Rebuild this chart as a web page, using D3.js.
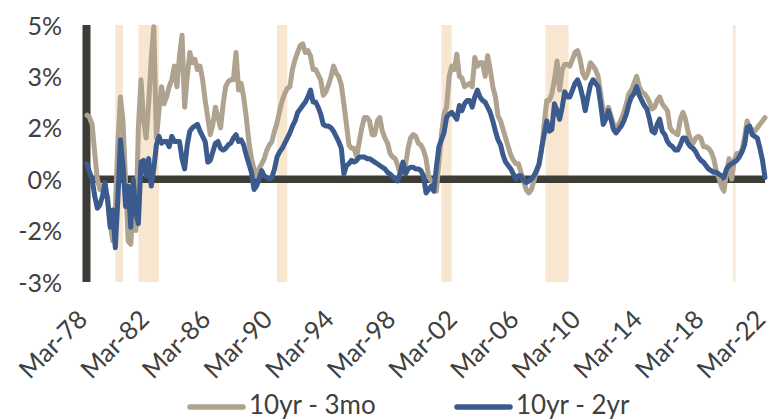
<!DOCTYPE html>
<html>
<head>
<meta charset="utf-8">
<script src="https://cdn.jsdelivr.net/npm/d3@7"></script>
<style>
  html, body { margin: 0; padding: 0; background: #ffffff; }
  svg { display: block; }
  text { font-family: Lato, "Noto Sans", sans-serif; fill: #404040; }
</style>
</head>
<body>
<svg id="chart" width="771" height="420"></svg>
<script>
// Treasury yield-curve spreads, one reading every two months from Mar 1978 to Mar 2022 (percent)
const seriesNames = ["10yr - 3mo", "10yr - 2yr"];
const seriesStart = new Date(1978, 2, 1);
const stepMonths = 2;

const spread10y3m = [
  1.87, 1.8, 1.6, 0.75, 0.0, -0.3, -0.2, -0.5, -0.5, -1.3, -1.8, -0.9, 1.0, 2.4, 1.7, -0.1, -1.8, -1.9, -0.7, -1.5,
  1.5, 2.9, 1.7, 1.2, 2.2, 3.5, 4.45, 1.2, 2.0, 2.7, 2.2, 2.4, 2.7, 2.9, 3.3, 2.7, 3.6, 4.2, 2.1, 3.0, 3.7, 3.4, 3.5, 3.2,
  3.3, 2.9, 2.3, 1.8, 1.3, 1.6, 2.1, 1.8, 1.5, 2.2, 2.7, 2.85, 2.9, 2.9, 3.7, 2.6, 2.8, 2.4, 1.8, 1.1, 0.6, 0.3, 0.07,
  0.3, 0.45, 0.6, 0.85, 1.0, 1.1, 1.4, 1.65, 2.0, 2.3, 2.5, 2.65, 2.7, 3.2, 3.5, 3.7, 3.9, 3.95, 3.7, 3.75, 3.6, 3.2,
  3.2, 3.05, 2.9, 2.45, 2.55, 2.75, 3.0, 3.3, 3.1, 3.0, 2.75, 2.2, 1.6, 1.0, 0.9, 0.9, 0.65, 1.1, 1.5, 1.8, 1.8, 1.7,
  1.3, 1.3, 1.7, 1.8, 1.4, 1.2, 1.05, 0.75, 0.65, 0.6, 0.4, 0.15, 0.25, 0.4, 0.9, 1.2, 1.3, 1.25, 1.05, 1.0, 0.85, 0.6, 0.07,
  -0.05, -0.1, -0.35, 0.5, 1.3, 1.9, 2.1, 3.0, 3.3, 3.2, 3.65, 3.0, 2.95, 2.7, 2.75, 2.8, 2.7, 3.55, 3.3, 3.4, 3.4, 3.0,
  3.6, 3.2, 2.7, 2.4, 1.85, 1.7, 1.45, 1.2, 0.95, 0.7, 0.55, 0.45, 0.45, 0.2, -0.05, -0.3, -0.4, -0.3, -0.05, 0.2, 0.4, 0.85, 1.6,
  2.3, 2.3, 2.5, 2.9, 3.45, 2.6, 3.2, 3.35, 3.35, 3.3, 3.5, 3.7, 3.75, 3.5, 3.1, 2.95, 3.1, 3.4, 3.3, 3.2, 3.0, 2.5,
  1.95, 1.95, 2.1, 1.85, 1.6, 1.5, 1.6, 1.75, 1.95, 2.2, 2.5, 2.6, 2.8, 3.0, 2.7, 2.55, 2.5, 2.4, 2.25, 2.05, 2.1, 2.3, 2.4,
  2.2, 2.1, 2.0, 1.5, 1.4, 1.35, 1.3, 1.75, 1.95, 1.75, 1.4, 1.15, 1.05, 1.2, 1.25, 1.2, 0.95, 0.95, 0.9, 0.8, 0.6,
  0.25, 0.05, -0.2, -0.35, 0.2, 0.6, 0.0, 0.55, 0.75, 0.75, 0.85, 1.2, 1.7, 1.5, 1.45, 1.4, 1.5, 1.6, 1.7, 1.8
];

const spread10y2y = [
  0.45, 0.2, 0.0, -0.5, -0.85, -0.75, -0.5, -0.1, -0.6, -1.4, -0.9, -2.0, -0.6, 1.15, 0.4, -0.8, -0.2, -1.4, 0.0, -1.0,
  -1.3, 0.5, 0.55, 0.1, 0.6, -0.2, 0.3, 1.0, 1.25, 1.05, 1.1, 1.1, 0.95, 1.25, 1.1, 1.1, 1.1, 0.6, 0.3, 1.0, 1.4, 1.5, 1.55, 1.6,
  1.4, 1.25, 1.1, 0.5, 0.55, 0.8, 1.05, 1.1, 0.9, 0.85, 0.9, 1.0, 1.05, 1.2, 1.3, 1.1, 1.15, 1.0, 0.7, 0.45, 0.2, -0.3, -0.2,
  0.0, 0.25, 0.1, 0.05, 0.0, 0.05, 0.3, 0.65, 0.8, 0.9, 1.05, 1.2, 1.35, 1.55, 1.7, 1.95, 2.05, 2.15, 2.25, 2.4, 2.6, 2.25,
  2.25, 2.1, 1.9, 1.6, 1.55, 1.55, 1.5, 1.4, 1.25, 1.1, 0.9, 0.15, 0.4, 0.45, 0.55, 0.5, 0.55, 0.65, 0.65, 0.65, 0.6, 0.6,
  0.55, 0.5, 0.45, 0.4, 0.35, 0.3, 0.2, 0.15, 0.07, 0.0, -0.05, 0.2, 0.5, 0.15, 0.3, 0.35, 0.35, 0.3, 0.3, 0.25, 0.1, -0.4, -0.3,
  -0.2, -0.35, 0.35, 0.95, 1.15, 1.35, 1.8, 1.9, 1.95, 1.85, 1.75, 2.15, 2.0, 2.2, 2.3, 2.3, 2.1, 2.4, 2.6, 2.4, 2.3, 2.25,
  2.1, 1.95, 1.7, 1.4, 1.15, 1.0, 0.7, 0.5, 0.4, 0.3, 0.15, 0.0, 0.1, 0.1, -0.03, -0.1, -0.05, 0.0, 0.1, 0.25, 0.45, 0.9, 1.3,
  1.7, 1.4, 1.45, 2.2, 2.0, 1.75, 2.1, 2.55, 2.4, 2.4, 2.6, 2.8, 2.9, 2.7, 2.4, 2.0, 2.4, 2.75, 2.9, 2.8, 2.7, 2.2,
  1.6, 1.75, 2.0, 1.75, 1.45, 1.35, 1.45, 1.55, 1.7, 1.9, 2.2, 2.4, 2.5, 2.7, 2.45, 2.3, 2.15, 2.05, 1.75, 1.4, 1.35, 1.6, 1.75,
  1.4, 1.3, 1.1, 1.0, 0.95, 0.85, 0.85, 1.0, 1.2, 1.2, 1.05, 0.95, 0.9, 0.8, 0.65, 0.55, 0.5, 0.4, 0.3, 0.25, 0.2,
  0.2, 0.15, 0.1, 0.05, 0.3, 0.4, 0.45, 0.5, 0.55, 0.65, 0.8, 1.0, 1.5, 1.55, 1.3, 1.25, 1.2, 0.9, 0.55, 0.05
];

// Recession periods (start month, end month)
const recessionStarts = ["1980-01", "1981-07", "1990-07", "2001-03", "2007-12", "2020-02"];
const recessionEnds   = ["1980-07", "1982-11", "1991-03", "2001-11", "2009-06", "2020-04"];

// Axis ticks
const yTickValues = [-3, -1.5, 0, 1.5, 3, 4.5];
const yTickLabels = ["-3%", "-2%", "0%", "2%", "3%", "5%"];
const xTickLabels = ["Mar-78", "Mar-82", "Mar-86", "Mar-90", "Mar-94", "Mar-98",
                     "Mar-02", "Mar-06", "Mar-10", "Mar-14", "Mar-18", "Mar-22"];

const colors = { tan: "#afa28e", blue: "#3b5a8e", axis: "#3e3c37", band: "#f8e7d0" };

const parseMonth = d3.timeParse("%Y-%m");
const parseTick = d3.timeParse("%b-%y");
const dates = spread10y3m.map((_, i) => d3.timeMonth.offset(seriesStart, i * stepMonths));

const svg = d3.select("#chart");
const plot = { left: 87, right: 765, top: 25, bottom: 282 };

const x = d3.scaleTime()
  .domain([parseTick("Mar-78"), parseTick("Mar-22")])
  .range([plot.left, plot.right]);
const y = d3.scaleLinear()
  .domain([-3, 4.5])
  .range([plot.bottom, plot.top]);

// recession bands
svg.append("g").selectAll("rect")
  .data(recessionStarts.map((s, i) => [parseMonth(s), parseMonth(recessionEnds[i])]))
  .join("rect")
  .attr("x", d => x(d[0]))
  .attr("width", d => x(d[1]) - x(d[0]))
  .attr("y", plot.top)
  .attr("height", plot.bottom - plot.top)
  .attr("fill", colors.band);

// y axis labels
const yAxis = svg.append("g")
  .attr("transform", `translate(${plot.left - 25},0)`)
  .call(d3.axisLeft(y).tickValues(yTickValues).tickSize(0).tickPadding(0)
    .tickFormat((d, i) => yTickLabels[i]));
yAxis.select(".domain").remove();
yAxis.selectAll("text")
  .attr("font-size", 25)
  .attr("dy", "0.36em")
  .style("font-family", "Lato, 'Noto Sans', sans-serif")
  .attr("fill", "#404040");

// x axis labels, rotated
const xAxis = svg.append("g")
  .attr("transform", `translate(0,${plot.bottom})`)
  .call(d3.axisBottom(x).tickValues(xTickLabels.map(parseTick)).tickSize(0)
    .tickFormat(d3.timeFormat("%b-%y")));
xAxis.select(".domain").remove();
xAxis.selectAll("text")
  .attr("font-size", 25.5)
  .attr("text-anchor", "end")
  .attr("dy", 0)
  .attr("y", 0)
  .attr("transform", "translate(1.5,39) rotate(-45)")
  .style("font-family", "Lato, 'Noto Sans', sans-serif")
  .attr("fill", "#404040");

// thick axis lines
svg.append("line")
  .attr("x1", plot.left - 0.5).attr("x2", plot.left - 0.5)
  .attr("y1", plot.top).attr("y2", plot.bottom)
  .attr("stroke", colors.axis).attr("stroke-width", 8);
svg.append("line")
  .attr("x1", plot.left - 4).attr("x2", plot.right)
  .attr("y1", y(0)).attr("y2", y(0))
  .attr("stroke", colors.axis).attr("stroke-width", 7.5);

// spread lines
const line = d3.line()
  .x((d, i) => x(dates[i]))
  .y(d => y(d));

svg.append("path")
  .datum(spread10y3m)
  .attr("d", line)
  .attr("fill", "none")
  .attr("stroke", colors.tan)
  .attr("stroke-width", 5)
  .attr("stroke-linejoin", "round")
  .attr("stroke-linecap", "round");

svg.append("path")
  .datum(spread10y2y)
  .attr("d", line)
  .attr("fill", "none")
  .attr("stroke", colors.blue)
  .attr("stroke-width", 5)
  .attr("stroke-linejoin", "round")
  .attr("stroke-linecap", "round");

// legend
const legendItems = [
  { name: seriesNames[0], color: colors.tan, x: 190 },
  { name: seriesNames[1], color: colors.blue, x: 457 }
];
const legend = svg.append("g").selectAll("g")
  .data(legendItems)
  .join("g")
  .attr("transform", d => `translate(${d.x},407)`);
legend.append("line")
  .attr("x1", 0).attr("x2", 53)
  .attr("stroke", d => d.color)
  .attr("stroke-width", 5.5)
  .attr("stroke-linecap", "round");
legend.append("text")
  .attr("x", 59)
  .attr("y", 7)
  .attr("font-size", 26)
  .text(d => d.name);
</script>
</body>
</html>
